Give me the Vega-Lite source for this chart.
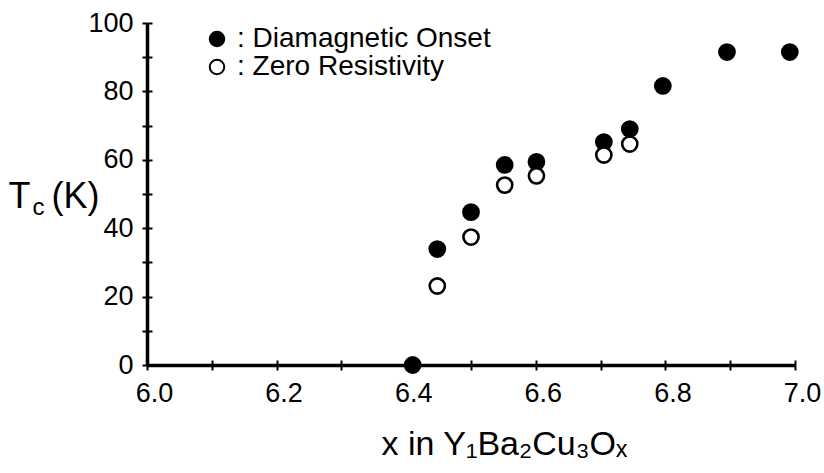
{
  "$schema": "https://vega.github.io/schema/vega-lite/v6.json",
  "width": 648,
  "height": 342,
  "autosize": {"type": "none"},
  "padding": {"left": 147, "top": 23, "right": 29, "bottom": 108},
  "background": "white",
  "config": {
    "view": {"stroke": null},
    "font": "Liberation Sans",
    "axis": {
      "grid": false,
      "domainColor": "black",
      "tickColor": "black",
      "labelColor": "black",
      "titleColor": "black",
      "labelFont": "Liberation Sans",
      "titleFont": "Liberation Sans",
      "titleFontWeight": "normal"
    },
    "legend": {"labelFont": "Liberation Sans", "labelColor": "black"}
  },
  "data": {
    "values": [
      {"x": 6.41, "tc": 0, "series": "Diamagnetic Onset"},
      {"x": 6.448, "tc": 33.9, "series": "Diamagnetic Onset"},
      {"x": 6.5, "tc": 44.7, "series": "Diamagnetic Onset"},
      {"x": 6.552, "tc": 58.5, "series": "Diamagnetic Onset"},
      {"x": 6.601, "tc": 59.4, "series": "Diamagnetic Onset"},
      {"x": 6.705, "tc": 65.2, "series": "Diamagnetic Onset"},
      {"x": 6.745, "tc": 69.0, "series": "Diamagnetic Onset"},
      {"x": 6.796, "tc": 81.6, "series": "Diamagnetic Onset"},
      {"x": 6.895, "tc": 91.5, "series": "Diamagnetic Onset"},
      {"x": 6.992, "tc": 91.5, "series": "Diamagnetic Onset"},
      {"x": 6.448, "tc": 23.1, "series": "Zero Resistivity"},
      {"x": 6.5, "tc": 37.4, "series": "Zero Resistivity"},
      {"x": 6.552, "tc": 52.6, "series": "Zero Resistivity"},
      {"x": 6.601, "tc": 55.3, "series": "Zero Resistivity"},
      {"x": 6.705, "tc": 61.4, "series": "Zero Resistivity"},
      {"x": 6.745, "tc": 64.6, "series": "Zero Resistivity"}
    ]
  },
  "layer": [
    {
      "mark": {"type": "circle", "stroke": "black", "strokeWidth": 2.6, "size": 230, "opacity": 1},
      "encoding": {
        "x": {
          "field": "x", "type": "quantitative",
          "scale": {"domain": [6, 7], "nice": false, "zero": false},
          "axis": {
            "orient": "bottom",
            "values": [6, 6.1, 6.2, 6.3, 6.4, 6.5, 6.6, 6.7, 6.8, 6.9, 7],
            "labelExpr": "round(datum.value*10) % 2 === 0 ? format(datum.value, '.1f') : ''",
            "labelOverlap": false,
            "labelFlush": false,
            "tickSize": 5, "tickWidth": 2, "domainWidth": 3.5,
            "labelFontSize": 27, "labelPadding": 10, "labelOffset": 7,
            "title": "x in Y₁Ba₂Cu₃Oₓ",
            "titleFontSize": 34,
            "titleX": 234, "titleY": 89,
            "titleAlign": "left", "titleBaseline": "alphabetic"
          }
        },
        "y": {
          "field": "tc", "type": "quantitative",
          "scale": {"domain": [0, 100], "nice": false},
          "axis": {
            "orient": "left",
            "values": [0, 10, 20, 30, 40, 50, 60, 70, 80, 90, 100],
            "labelExpr": "datum.value % 20 === 0 ? datum.label : ''",
            "labelOverlap": false,
            "labelFlush": false,
            "tickSize": 5, "tickWidth": 2, "domainWidth": 3.5,
            "labelFontSize": 27, "labelPadding": 9,
            "title": "T",
            "titleFontSize": 36, "titleAngle": 0,
            "titleX": -139, "titleY": 184,
            "titleAlign": "left", "titleBaseline": "alphabetic"
          }
        },
        "fill": {
          "field": "series", "type": "nominal",
          "scale": {"domain": ["Diamagnetic Onset", "Zero Resistivity"], "range": ["black", "white"]},
          "legend": {
            "orient": "none", "legendX": 56, "legendY": 2,
            "title": null, "padding": 0, "rowPadding": 0,
            "labelExpr": "': ' + datum.label",
            "labelFontSize": 28, "labelOffset": 6, "labelLimit": 0,
            "symbolType": "circle", "symbolSize": 210,
            "symbolStrokeColor": "black", "symbolStrokeWidth": 2,
            "symbolOpacity": 1
          }
        }
      }
    },
    {
      "mark": {"type": "circle", "opacity": 0},
      "encoding": {
        "x": {
          "field": "x", "type": "quantitative",
          "scale": {"domain": [6, 7], "nice": false, "zero": false},
          "axis": {
            "orient": "bottom",
            "values": [6, 6.1, 6.2, 6.3, 6.4, 6.5, 6.6, 6.7, 6.8, 6.9, 7],
            "tickSize": -5, "tickWidth": 2, "domain": false, "labels": false, "title": null
          }
        },
        "y": {
          "field": "tc", "type": "quantitative",
          "scale": {"domain": [0, 100], "nice": false},
          "axis": {
            "orient": "left",
            "values": [0, 10, 20, 30, 40, 50, 60, 70, 80, 90, 100],
            "tickSize": -5, "tickWidth": 2, "domain": false, "labels": false,
            "title": "c",
            "titleFontSize": 24, "titleAngle": 0,
            "titleX": -115, "titleY": 191,
            "titleAlign": "left", "titleBaseline": "alphabetic"
          }
        }
      }
    },
    {
      "mark": {"type": "circle", "opacity": 0},
      "encoding": {
        "x": {
          "field": "x", "type": "quantitative",
          "scale": {"domain": [6, 7], "nice": false, "zero": false},
          "axis": null
        },
        "y": {
          "field": "tc", "type": "quantitative",
          "scale": {"domain": [0, 100], "nice": false},
          "axis": {
            "orient": "left",
            "ticks": false, "domain": false, "labels": false,
            "title": "(K)",
            "titleFontSize": 36, "titleAngle": 0,
            "titleX": -96, "titleY": 184,
            "titleAlign": "left", "titleBaseline": "alphabetic"
          }
        }
      }
    }
  ],
  "resolve": {"axis": {"x": "independent", "y": "independent"}}
}
